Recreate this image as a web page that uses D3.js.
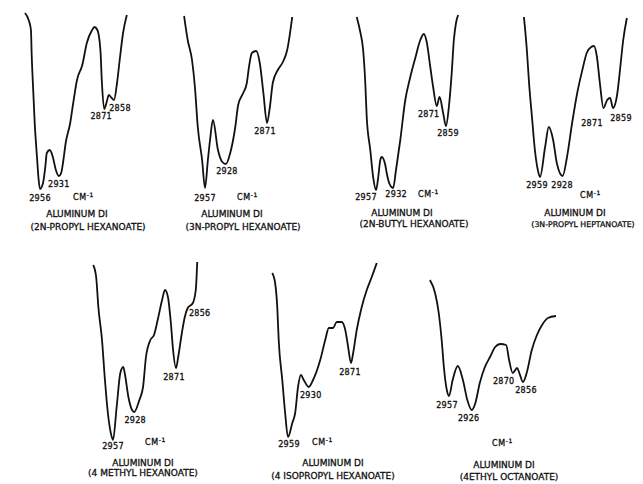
<!DOCTYPE html>
<html>
<head>
<meta charset="utf-8">
<script src="https://cdn.jsdelivr.net/npm/d3@7"></script>
<style>
body { margin: 0; background: #fff; }
svg { display: block; }
text { font-family: "DejaVu Sans", sans-serif; fill: #111; stroke: #111; stroke-width: 0.3; }
</style>
</head>
<body>
<div id="chart"></div>
<script>
// IR C-H stretch region, [wavenumber cm-1, transmittance %]
const propylHexanoate2N = [[2976,93.5],[2971,90],[2968,85],[2967,72.5],[2965,55],[2963,38.5],[2960,21.5],[2958,11],[2956,5.5],[2952,8.5],[2949,16.5],[2947,23.5],[2943,25],[2939,21.5],[2935,15],[2931,12],[2928,13.5],[2925,20],[2922,28.5],[2916,38.5],[2912,48.5],[2907,60],[2900,67.5],[2894,78.5],[2887,85],[2884,86.5],[2880,85],[2876,75],[2874,58.5],[2871,45.5],[2867,50],[2865,52.5],[2861,51],[2858,50],[2854,58.5],[2850,71.5],[2846,83.5],[2841,92.5]];
const propylHexanoate3N = [[2986,92],[2981,80],[2975,70],[2971,56.5],[2967,36.5],[2961,20],[2957,6],[2953,20],[2950,30],[2946,40],[2939,25],[2933,19],[2928,18],[2922,23.5],[2915,36.5],[2911,47.5],[2904,53.5],[2899,58.5],[2896,66.5],[2892,73.5],[2886,74.5],[2881,68.5],[2876,53.5],[2871,38.5],[2867,46.5],[2863,58.5],[2856,65],[2849,69],[2843,75],[2836,91.5]];
const butylHexanoate2N = [[2984,91.5],[2979,84],[2975,75],[2972,58.5],[2970,41.5],[2965,25],[2961,11.5],[2957,5],[2954,11],[2951,20],[2949,21.5],[2944,17.5],[2942,13.5],[2938,8],[2933,6],[2929,15],[2923,30],[2916,50],[2909,61.5],[2902,71],[2895,80],[2890,83],[2886,79],[2881,66.5],[2877,56.5],[2872,47],[2868,51.5],[2863,43.5],[2859,37],[2855,46.5],[2851,63.5],[2848,80],[2845,88.5],[2842,92.5]];
const propylHeptanoate3N = [[2981,91.5],[2977,75],[2974,58.5],[2970,41.5],[2966,25],[2962,15],[2959,11.5],[2952,26.5],[2947,36.5],[2941,30],[2936,18.5],[2928,12],[2922,21.5],[2915,38.5],[2908,53.5],[2901,65],[2895,73.5],[2889,76.5],[2885,77],[2881,71.5],[2877,58.5],[2872,46],[2867,50],[2863,51],[2859,46],[2853,53.5],[2849,66.5],[2845,80],[2840,91]];
const methylHexanoate4 = [[2984,92.5],[2980,86.5],[2977,71.5],[2972,55],[2968,35],[2964,18.5],[2960,8.5],[2957,5],[2952,21.5],[2947,38.5],[2943,41.5],[2941,38.5],[2936,26.5],[2931,20],[2928,19],[2921,25],[2916,31.5],[2912,46.5],[2906,55],[2901,57.5],[2896,65],[2890,75],[2886,80],[2882,76.5],[2878,63.5],[2875,50],[2871,41],[2868,46.5],[2863,58.5],[2859,66.5],[2855,71],[2848,73.5],[2844,80],[2842,94]];
const isopropylHexanoate4 = [[2981,88.5],[2977,83.5],[2974,71.5],[2972,55],[2967,35],[2963,18.5],[2959,6.5],[2953,13.5],[2949,18.5],[2945,31.5],[2941,37.5],[2937,35],[2930,31.5],[2924,35],[2914,45],[2907,55],[2902,61],[2896,61],[2891,64],[2884,64],[2879,60],[2875,51.5],[2871,43.5],[2868,48.5],[2863,60],[2856,71.5],[2849,80],[2842,86.5],[2835,93.5]];
const ethylOctanoate4 = [[2983,85],[2976,78.5],[2971,68.5],[2967,55],[2964,41.5],[2960,30],[2957,27],[2952,35],[2945,42],[2938,35],[2932,25],[2926,20],[2921,23.5],[2915,33.5],[2908,41.5],[2901,46.5],[2894,51.5],[2887,53],[2879,52.5],[2875,45],[2870,38.5],[2864,41],[2861,38.5],[2856,34],[2851,38.5],[2844,50],[2837,57.5],[2830,62.5],[2822,66],[2811,67]];

const spectra = [propylHexanoate2N, propylHexanoate3N, butylHexanoate2N, propylHeptanoate3N,
                 methylHexanoate4, isopropylHexanoate4, ethylOctanoate4];

// band positions written next to each trace
const peakLabels = [
    [2956, 2931, 2871, 2858],
    [2957, 2928, 2871],
    [2957, 2932, 2871, 2859],
    [2959, 2928, 2871, 2859],
    [2957, 2928, 2871, 2856],
    [2959, 2930, 2871],
    [2957, 2926, 2870, 2856]
];

const compounds = [
    "(2N-PROPYL HEXANOATE)", "(3N-PROPYL HEXANOATE)", "(2N-BUTYL HEXANOATE)", "(3N-PROPYL HEPTANOATE)",
    "(4 METHYL HEXANOATE)", "(4 ISOPROPYL HEXANOATE)", "(4ETHYL OCTANOATE)"
];
const titleLine = "ALUMINUM DI";

// where each small spectrum sits on the page
const layout = [
    { xd: [2956, 2858], xr: [40, 114], yr: [200, 0], off: [[0,12],[0,11],[-3,10],[6,11]], cm: [73, 200], t1: [77, 217], t2: [88, 230, 9] },
    { xd: [2957, 2871], xr: [205, 267], yr: [200, 0], off: [[0,13],[1,10],[-2,11]], cm: [237, 200], t1: [232, 217], t2: [243, 230, 9] },
    { xd: [2957, 2859], xr: [376, 446], yr: [200, 0], off: [[-10,10],[3,9],[-8,11],[2,10]], cm: [418, 197], t1: [402, 216], t2: [414, 227, 9] },
    { xd: [2959, 2859], xr: [540, 613], yr: [200, 0], off: [[-3,11],[-0.5,12],[-11.5,18],[8,13]], cm: [580, 198], t1: [575, 216], t2: [583, 227, 7.8] },
    { xd: [2957, 2871], xr: [113, 176], yr: [450, 250], off: [[0,9],[1,11],[-2,12],[12,8]], cm: [145, 445], t1: [143, 466], t2: [143, 476, 9] },
    { xd: [2959, 2871], xr: [288, 351], yr: [450, 250], off: [[1,10],[2,11],[-1,12]], cm: [312, 445], t1: [333, 466], t2: [333, 479, 9] },
    { xd: [2957, 2856], xr: [449, 523], yr: [450, 250], off: [[-2,12],[-3,11],[-9,11],[3,11]], cm: [492, 446], t1: [504, 468], t2: [509, 480, 9] }
];

var svg = d3.select("#chart")
    .append("svg")
    .attr("width", 643)
    .attr("height", 484);

spectra.forEach(function (data, i) {
    var L = layout[i];
    var xScale = d3.scaleLinear().domain(L.xd).range(L.xr);
    var yScale = d3.scaleLinear().domain([0, 100]).range(L.yr);

    var line = d3.line()
        .curve(d3.curveMonotoneX)
        .x(function (d) { return xScale(d[0]); })
        .y(function (d) { return yScale(d[1]); });

    var g = svg.append("g").attr("class", "panel");

    g.append("path")
        .attr("d", line(data))
        .attr("fill", "none")
        .attr("stroke", "#111")
        .attr("stroke-width", 1.8)
        .attr("stroke-linejoin", "round");

    // band labels sit under the nearest point of the trace
    peakLabels[i].forEach(function (w, j) {
        var p = d3.least(data, function (d) { return Math.abs(d[0] - w); });
        g.append("text")
            .attr("x", xScale(p[0]) + L.off[j][0])
            .attr("y", yScale(p[1]) + L.off[j][1])
            .attr("text-anchor", "middle")
            .attr("font-size", 8)
            .attr("letter-spacing", 0.3)
            .text(w);
    });

    var cm = g.append("text")
        .attr("x", L.cm[0])
        .attr("y", L.cm[1])
        .attr("font-size", 8)
        .attr("letter-spacing", 0.6)
        .text("CM");
    cm.append("tspan").attr("font-size", 6).attr("dy", -3.5).text("-1");

    g.append("text")
        .attr("x", L.t1[0])
        .attr("y", L.t1[1])
        .attr("text-anchor", "middle")
        .attr("font-size", 9)
        .text(titleLine);

    g.append("text")
        .attr("x", L.t2[0])
        .attr("y", L.t2[1])
        .attr("text-anchor", "middle")
        .attr("font-size", L.t2[2])
        .text(compounds[i]);
});
</script>
</body>
</html>
